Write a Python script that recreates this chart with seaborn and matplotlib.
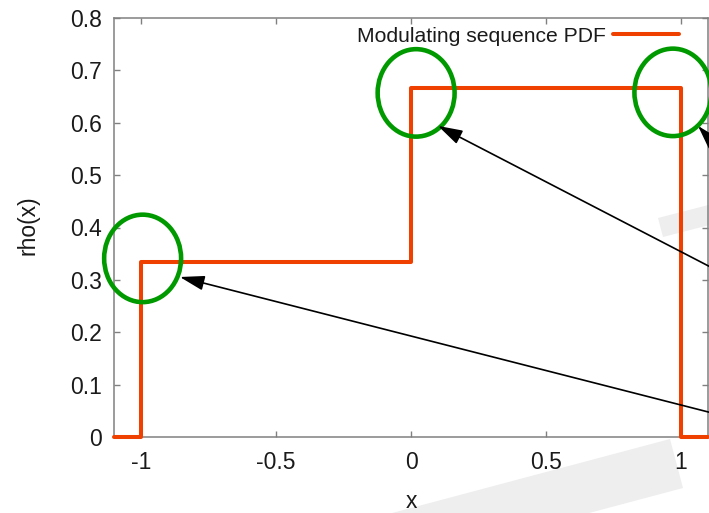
import matplotlib
matplotlib.use("Agg")
import matplotlib.pyplot as plt
import seaborn as sns
import pandas as pd
import numpy as np
from matplotlib.patches import Ellipse, Polygon

# ---- data ----
x_edges = [-1.1, -1.0, 0.0, 1.0, 1.1]
rho_vals = [0.0, 1/3, 2/3, 0.0, 0.0]
series_label = "Modulating sequence PDF"
xticks = [-1, -0.5, 0, 0.5, 1]
yticks = [0, 0.1, 0.2, 0.3, 0.4, 0.5, 0.6, 0.7, 0.8]

# highlight ellipses (centres in data units)
ell_x = [-0.994, 0.019, 0.970]
ell_y = [0.341, 0.657, 0.658]
# arrows: tips and tails (data units)
arr_tip_x = [-0.856, 0.100, 1.063]
arr_tip_y = [0.3055, 0.594, 0.594]
arr_tail_x = [1.16, 1.16, 1.50]
arr_tail_y = [0.040, 0.311, 0.345]

sns.set_style("ticks")
plt.rcParams["font.family"] = ["Liberation Sans", "DejaVu Sans"]

W, H = 709, 513
fig = plt.figure(figsize=(W / 100, H / 100), dpi=100)
ax = fig.add_axes([114 / W, 1 - 437 / H, (708 - 114) / W, (437 - 18) / H])
ax.set_facecolor("none")

df = pd.DataFrame({"x": x_edges, "rho": rho_vals})
sns.lineplot(data=df, x="x", y="rho", ax=ax, drawstyle="steps-post",
             color="#F04000", lw=2.9, label=series_label, estimator=None,
             sort=False, clip_on=False, zorder=3)

ax.set_xlim(-1.1, 1.1)
ax.set_ylim(0, 0.8)
ax.set_xticks(xticks)
ax.set_xticklabels(["-1", "-0.5", "0", "0.5", "1"])
ax.set_yticks(yticks)
ax.set_yticklabels(["0", "0.1", "0.2", "0.3", "0.4", "0.5", "0.6", "0.7", "0.8"])

spine_c = "#808080"
for s in ax.spines.values():
    s.set_visible(True)
    s.set_color(spine_c)
    s.set_linewidth(1.1)
ax.tick_params(direction="in", top=True, right=True, length=4,
               width=1, color=spine_c, labelsize=16.5, labelcolor="#1a1a1a")
ax.tick_params(axis="y", pad=8.5)
ax.tick_params(axis="x", pad=10)

ax.set_xlabel("x", fontsize=16.5, color="#1a1a1a")
ax.set_ylabel("rho(x)", fontsize=16.5, color="#1a1a1a")
ax.xaxis.label.set_va("center")
ax.yaxis.label.set_va("center")
ax.xaxis.set_label_coords(0.5, -0.155)
ax.yaxis.set_label_coords(-0.144, 0.505)

# ellipses
for cx, cy in zip(ell_x, ell_y):
    e = Ellipse((cx, cy), width=0.285, height=0.167, fill=False,
                edgecolor="#009900", lw=3.3, clip_on=False, zorder=4)
    ax.add_patch(e)

# arrows
for tx, ty, sx, sy in zip(arr_tip_x, arr_tip_y, arr_tail_x, arr_tail_y):
    ax.annotate("", xy=(tx, ty), xytext=(sx, sy), annotation_clip=False,
                arrowprops=dict(arrowstyle="-|>,head_length=0.5,head_width=0.15",
                                mutation_scale=30, color="black", lw=1.2,
                                shrinkA=0, shrinkB=0), zorder=5)

# faint grey bands from the source figure
def px(pts):
    return [(x / W, 1 - y / H) for x, y in pts]

fig.add_artist(Polygon(px([(670, 439), (683, 488), (300, 590), (287, 541)]),
                       closed=True, facecolor="#EEEEEE", edgecolor="none",
                       transform=fig.transFigure, zorder=-1))
fig.add_artist(Polygon(px([(658, 218), (663, 237), (760, 212), (755, 193)]),
                       closed=True, facecolor="#EEEEEE", edgecolor="none",
                       transform=fig.transFigure, zorder=-1))

leg = ax.legend(loc="center right", bbox_to_anchor=(679 / W, 1 - 36 / H),
                bbox_transform=fig.transFigure, frameon=False, markerfirst=False,
                fontsize=15.2, handlelength=3.15, handletextpad=0.32, borderpad=0,
                borderaxespad=0)
for t in leg.get_texts():
    t.set_color("#1a1a1a")

fig.savefig("out.png", dpi=100)
